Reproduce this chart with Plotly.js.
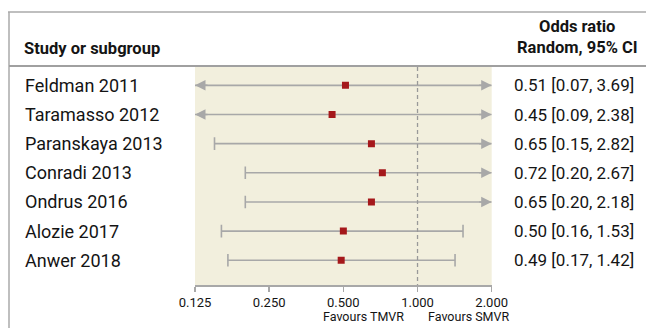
<!DOCTYPE html>
<html>
<head>
<meta charset="utf-8">
<script src="https://cdn.plot.ly/plotly-3.0.1.min.js"></script>
<style>
html,body{margin:0;padding:0;background:#fff;}
#chart{width:646px;height:328px;}
</style>
</head>
<body>
<div id="chart"></div>
<script>
var studies = ["Feldman 2011", "Taramasso 2012", "Paranskaya 2013", "Conradi 2013", "Ondrus 2016", "Alozie 2017", "Anwer 2018"];
var oddsRatio = [0.51, 0.45, 0.65, 0.72, 0.65, 0.50, 0.49];
var ciLow = [0.07, 0.09, 0.15, 0.20, 0.20, 0.16, 0.17];
var ciHigh = [3.69, 2.38, 2.82, 2.67, 2.18, 1.53, 1.42];
var tickVals = [0.125, 0.25, 0.5, 1, 2];
var tickText = ["0.125", "0.250", "0.500", "1.000", "2.000"];
var xMin = 0.125, xMax = 2;

var W = 646, H = 328;
var FONT = 'Roboto, "Liberation Sans", sans-serif';
var TXT = '#141414';
var GREY = '#a8a8a8';
var plotL = 195, plotR = 491.7, plotT = 67, plotB = 285;
var yTop = -0.63, yBot = 6.85;

var traces = [];
var annotations = [];
studies.forEach(function (s, i) {
  var x0 = Math.max(ciLow[i], xMin), x1 = Math.min(ciHigh[i], xMax);
  traces.push({
    type: 'scatter', mode: 'lines+markers',
    x: [x0, x1], y: [i, i],
    line: {color: GREY, width: 1.6},
    marker: {symbol: 'line-ns', size: 9, color: GREY, line: {color: GREY, width: 1.6},
             opacity: [ciLow[i] < xMin ? 0 : 1, ciHigh[i] > xMax ? 0 : 1]},
    hoverinfo: 'skip', showlegend: false
  });
  if (ciLow[i] < xMin) {
    annotations.push({x: Math.log10(x0), y: i, xref: 'x', yref: 'y', text: '', showarrow: true,
      ax: 14, ay: 0, arrowhead: 2, arrowsize: 1.4, arrowwidth: 1.5, arrowcolor: GREY, standoff: 0});
  }
  if (ciHigh[i] > xMax) {
    annotations.push({x: Math.log10(x1), y: i, xref: 'x', yref: 'y', text: '', showarrow: true,
      ax: -14, ay: 0, arrowhead: 2, arrowsize: 1.4, arrowwidth: 1.5, arrowcolor: GREY, standoff: 0});
  }
  annotations.push({x: 23 / W, y: i, xref: 'paper', yref: 'y', text: s, showarrow: false,
    xanchor: 'left', yanchor: 'middle', font: {family: FONT, size: 18, color: TXT}});
  annotations.push({x: 512 / W, y: i, xref: 'paper', yref: 'y',
    text: oddsRatio[i].toFixed(2) + ' [' + ciLow[i].toFixed(2) + ', ' + ciHigh[i].toFixed(2) + ']',
    showarrow: false, xanchor: 'left', yanchor: 'middle', font: {family: FONT, size: 17, color: TXT}});
});

// null line at OR = 1
traces.push({type: 'scatter', mode: 'lines', x: [1, 1], y: [yTop, yBot],
  line: {color: '#999999', width: 1.3, dash: '4px,3px'}, hoverinfo: 'skip', showlegend: false});

// point estimates
traces.push({type: 'scatter', mode: 'markers', x: oddsRatio, y: studies.map(function (s, i) { return i; }),
  marker: {symbol: 'square', size: 7, color: '#a5181b'}, hoverinfo: 'skip', showlegend: false});

// headers & footers
annotations.push({x: 22 / W, y: 1 - 48 / H, xref: 'paper', yref: 'paper', text: '<b>Study or subgroup</b>',
  showarrow: false, xanchor: 'left', yanchor: 'middle', font: {family: FONT, size: 16.5, color: TXT}});
annotations.push({x: 577 / W, y: 1 - 27 / H, xref: 'paper', yref: 'paper', text: '<b>Odds ratio</b>',
  showarrow: false, xanchor: 'center', yanchor: 'middle', font: {family: FONT, size: 16.5, color: TXT}});
annotations.push({x: 577 / W, y: 1 - 47 / H, xref: 'paper', yref: 'paper', text: '<b>Random, 95% CI</b>',
  showarrow: false, xanchor: 'center', yanchor: 'middle', font: {family: FONT, size: 16.5, color: TXT}});
annotations.push({x: 363 / W, y: 1 - 316 / H, xref: 'paper', yref: 'paper', text: 'Favours TMVR',
  showarrow: false, xanchor: 'center', yanchor: 'middle', font: {family: FONT, size: 12.5, color: TXT}});
annotations.push({x: 469 / W, y: 1 - 316 / H, xref: 'paper', yref: 'paper', text: 'Favours SMVR',
  showarrow: false, xanchor: 'center', yanchor: 'middle', font: {family: FONT, size: 12.5, color: TXT}});

var shapes = [
  {type: 'line', xref: 'paper', yref: 'paper', x0: 8 / W, x1: 1, y0: 1 - 12 / H, y1: 1 - 12 / H, line: {color: '#aaaaaa', width: 1.5}},
  {type: 'line', xref: 'paper', yref: 'paper', x0: 9 / W, x1: 9 / W, y0: 1 - 12 / H, y1: 0, line: {color: '#aaaaaa', width: 1.5}},
  {type: 'line', xref: 'paper', yref: 'paper', x0: 9 / W, x1: 1, y0: 1 - 66 / H, y1: 1 - 66 / H, line: {color: '#a0a0a0', width: 2}}
];

var layout = {
  width: W, height: H,
  margin: {l: 0, r: 0, t: 0, b: 0},
  paper_bgcolor: '#ffffff',
  plot_bgcolor: '#f2efdd',
  showlegend: false,
  xaxis: {
    type: 'log', range: [Math.log10(xMin), Math.log10(xMax)],
    domain: [plotL / W, plotR / W],
    tickvals: tickVals, ticktext: tickText,
    tickfont: {family: FONT, size: 13, color: TXT},
    showgrid: false, zeroline: false,
    showline: true, linecolor: GREY, linewidth: 1.5,
    ticks: 'outside', ticklen: 5, tickcolor: GREY, tickwidth: 1.5,
    automargin: false, fixedrange: true
  },
  yaxis: {
    range: [yBot, yTop],
    domain: [1 - plotB / H, 1 - plotT / H],
    visible: false, showgrid: false, zeroline: false, automargin: false, fixedrange: true
  },
  annotations: annotations,
  shapes: shapes
};

Plotly.newPlot('chart', traces, layout, {displayModeBar: false, staticPlot: true});
</script>
</body>
</html>
